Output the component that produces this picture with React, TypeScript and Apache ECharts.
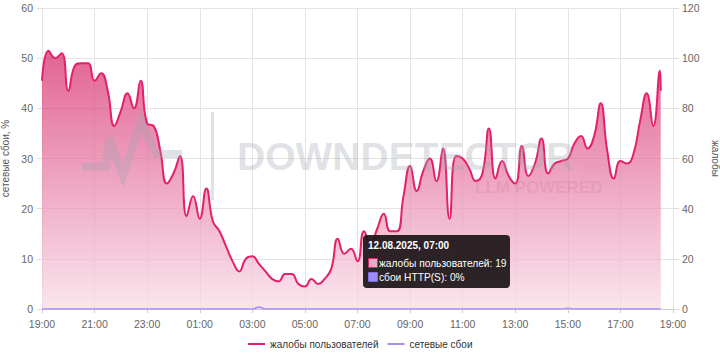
import React, { useEffect, useRef } from "react";
import * as echarts from "echarts";

// Minutes after 19:00 (11.08.2025) for each sample
const STEP_MIN = 15;
const complaints = [
  91, 103, 100, 102, 87, 97, 98, 98, 91, 94, 87, 73, 79, 86, 80, 91, 74, 73, 63, 50,
  54, 61, 37, 45, 36, 48, 35, 31, 25, 19, 15, 20, 21, 18, 15, 12, 11, 14, 14, 10,
  9, 12, 10, 12, 16, 28, 22, 24, 19, 31, 26, 32, 38, 31, 31, 45, 57, 47, 55, 60,
  51, 64, 36, 61, 60, 56, 51, 54, 72, 52, 59, 53, 50, 65, 53, 58, 68, 54, 58, 59,
  60, 66, 69, 64, 69, 82, 63, 52, 59, 58, 62, 75, 86, 73, 95,
];
const lastPoint = { minute: 1412, complaints: 87, network: 0 };
const networkPct = [
  0, 0, 0, 0, 0, 0, 0, 0, 0, 0, 0, 0, 0, 0, 0, 0, 0, 0, 0, 0,
  0, 0, 0, 0, 0, 0, 0, 0, 0, 0, 0, 0, 0, 0.4, 0, 0, 0, 0, 0, 0,
  0, 0, 0, 0, 0, 0, 0, 0, 0, 0, 0, 0, 0, 0, 0, 0, 0, 0, 0, 0,
  0, 0, 0, 0, 0, 0, 0, 0, 0, 0, 0, 0, 0, 0, 0, 0, 0, 0, 0, 0,
  0.15, 0, 0, 0, 0, 0, 0, 0, 0, 0, 0, 0, 0, 0, 0,
];
const leftTicks = { min: 0, max: 60, interval: 10 };
const rightTicks = { min: 0, max: 120, interval: 20 };
const xTicks = { min: 0, max: 1440, interval: 120 };
const tooltipLines = {
  title: "12.08.2025, 07:00",
  complaints: "жалобы пользователей: 19",
  http: "сбои HTTP(S): 0%",
};

const PINK = "#e3206a";
const PURPLE = "#a38ff5";
const FONT = "Liberation Sans, Arial, sans-serif";

function minuteLabel(m: number) {
  const total = (19 * 60 + m) % 1440;
  const h = Math.floor(total / 60);
  const mm = total % 60;
  return String(h).padStart(2, "0") + ":" + String(mm).padStart(2, "0");
}

export default function App() {
  const ref = useRef<HTMLDivElement>(null);
  useEffect(() => {
    if (!ref.current) return;
    const chart = echarts.init(ref.current, null, { renderer: "svg" });
    const cData = complaints.map((v, i) => [i * STEP_MIN, v]);
    cData.push([lastPoint.minute, lastPoint.complaints]);
    const nData = networkPct.map((v, i) => [i * STEP_MIN, v]);
    nData.push([lastPoint.minute, lastPoint.network]);

    const wm = "rgba(160,165,178,0.33)";
    const T = (x: number, y: number, text: string, size: number, weight: string, fill: string, z: number) => ({
      type: "text",
      x,
      y,
      z,
      silent: true,
      style: { text, fontSize: size, fontWeight: weight, fontFamily: FONT, fill, verticalAlign: "middle" },
    });
    chart.setOption({
      animation: false,
      textStyle: { fontFamily: FONT },
      grid: { left: 42, right: 47, top: 8, bottom: 51, containLabel: false, outerBoundsMode: "none" },
      legend: {
        bottom: 6,
        left: 243,
        icon: "rect",
        itemWidth: 17,
        itemHeight: 2,
        itemGap: 9,
        textStyle: { fontSize: 10, color: "#333" },
        data: ["жалобы пользователей", "сетевые сбои"],
      },
      xAxis: {
        type: "value",
        min: xTicks.min,
        max: xTicks.max,
        interval: xTicks.interval,
        axisLine: { show: true, lineStyle: { color: "#ccc" } },
        axisTick: { show: true, length: 4, lineStyle: { color: "#ccc" } },
        axisLabel: { color: "#666", fontSize: 10.5, margin: 9, formatter: (v: number) => minuteLabel(v) },
        splitLine: { show: true, lineStyle: { color: "#e4e4e4" } },
      },
      yAxis: [
        {
          type: "value",
          min: leftTicks.min,
          max: leftTicks.max,
          interval: leftTicks.interval,
          name: "сетевые сбои, %",
          nameLocation: "middle",
          nameGap: 28,
          nameRotate: 90,
          nameTextStyle: { color: "#555", fontSize: 10 },
          axisLine: { show: false },
          axisTick: { show: true, length: 5, lineStyle: { color: "#ddd" } },
          axisLabel: { color: "#666", fontSize: 10.5, margin: 9 },
          splitLine: { show: true, lineStyle: { color: "#e4e4e4" } },
        },
        {
          type: "value",
          min: rightTicks.min,
          max: rightTicks.max,
          interval: rightTicks.interval,
          position: "right",
          name: "жалобы",
          nameLocation: "middle",
          nameGap: 32,
          nameRotate: -90,
          nameTextStyle: { color: "#555", fontSize: 10 },
          axisLine: { show: true, lineStyle: { color: "#e4e4e4" } },
          axisTick: { show: true, length: 6, lineStyle: { color: "#ddd" } },
          axisLabel: { color: "#666", fontSize: 10.5, margin: 9 },
          splitLine: { show: false },
        },
      ],
      series: [
        {
          name: "жалобы пользователей",
          type: "line",
          yAxisIndex: 1,
          smooth: true,
          symbol: "none",
          data: cData,
          lineStyle: { color: PINK, width: 2 },
          itemStyle: { color: PINK },
          areaStyle: {
            color: new echarts.graphic.LinearGradient(0, 0, 0, 1, [
              { offset: 0, color: "rgba(214,34,102,1)" },
              { offset: 1, color: "rgba(248,219,230,1)" },
            ]),
          },
          z: 2,
        },
        {
          name: "сетевые сбои",
          type: "line",
          yAxisIndex: 0,
          smooth: true,
          symbol: "none",
          data: nData,
          lineStyle: { color: PURPLE, width: 1.5 },
          itemStyle: { color: PURPLE },
          areaStyle: { color: "rgba(163,143,245,0.25)" },
          z: 3,
        },
      ],
      graphic: [
        {
          type: "polyline",
          z: 50,
          silent: true,
          shape: { points: [[82, 167], [106, 167], [109, 138], [123, 176], [141, 121], [156, 154], [182, 154]] },
          style: { stroke: wm, lineWidth: 8, fill: null, lineJoin: "miter" },
        },
        { type: "rect", z: 50, silent: true, shape: { x: 211, y: 112, width: 3, height: 88 }, style: { fill: wm } },
        T(237, 156, "DOWNDETECTOR", 39, "bold", wm, 50),
        T(579, 166, ".info", 13, "bold", "rgba(230,140,180,0.35)", 50),
        T(475, 187, "LLM POWERED", 17, "bold", "rgba(200,120,160,0.25)", 50),
        {
          type: "rect",
          z: 100,
          shape: { x: 363, y: 235, width: 147, height: 53, r: 4 },
          style: { fill: "rgba(28,22,25,0.93)" },
        },
        T(368, 245, tooltipLines.title, 10, "bold", "#fff", 101),
        {
          type: "rect",
          z: 101,
          shape: { x: 368.5, y: 258.5, width: 9, height: 9 },
          style: { fill: "#f3a9c4", stroke: PINK, lineWidth: 1 },
        },
        T(379, 263, tooltipLines.complaints, 10.2, "normal", "#fff", 101),
        {
          type: "rect",
          z: 101,
          shape: { x: 368.5, y: 272.5, width: 9, height: 9 },
          style: { fill: "#9b8cf7", stroke: "#7d6ee6", lineWidth: 1 },
        },
        T(379, 277, tooltipLines.http, 10.2, "normal", "#fff", 101),
      ],
    });
    return () => chart.dispose();
  }, []);
  return (
    <div
      ref={ref}
      style={{ position: "fixed", left: 0, top: 0, width: 720, height: 360, background: "#fff" }}
    />
  );
}
